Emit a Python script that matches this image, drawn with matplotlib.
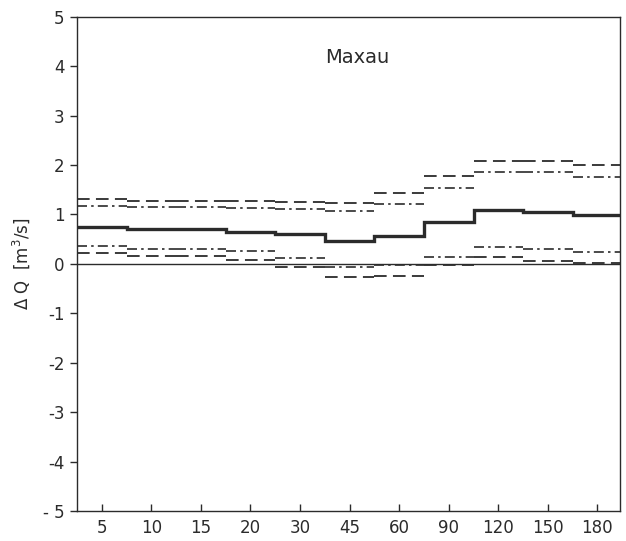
import matplotlib
matplotlib.use("Agg")
import matplotlib.pyplot as plt
import numpy as np

# durations (days) on the x axis, one step per category
durations = ["5", "10", "15", "20", "30", "45", "60", "90", "120", "150", "180"]

mean_dq = [0.74, 0.70, 0.70, 0.65, 0.60, 0.47, 0.57, 0.84, 1.10, 1.05, 0.99]
upper_dash = [1.31, 1.28, 1.28, 1.27, 1.25, 1.23, 1.44, 1.78, 2.08, 2.08, 2.00]
upper_dashdot = [1.18, 1.15, 1.15, 1.13, 1.11, 1.06, 1.21, 1.54, 1.86, 1.86, 1.76]
lower_dashdot = [0.37, 0.30, 0.30, 0.26, 0.12, -0.07, -0.03, 0.13, 0.35, 0.30, 0.25]
lower_dash = [0.23, 0.16, 0.16, 0.08, -0.06, -0.26, -0.24, -0.03, 0.13, 0.06, 0.01]

yticks = [-5, -4, -3, -2, -1, 0, 1, 2, 3, 4, 5]
ytick_labels = ["- 5", "-4", "-3", "-2", "-1", "0", "1", "2", "3", "4", "5"]

ink = "#2b2b2b"
plt.rcParams["font.family"] = "DejaVu Sans"

fig = plt.figure(figsize=(6.26, 5.41), dpi=100)
ax = fig.add_axes([0.123, 0.0555, 0.867, 0.9135])

n = len(durations)
edges = np.arange(n + 1) - 0.5
edges[-1] = n - 1 + 0.45

ax.axhline(0, color=ink, lw=1.0)
ax.stairs(mean_dq, edges, baseline=None, color=ink, lw=2.4)

# bounds: horizontal pieces only, no vertical connectors
dash = (0, (7, 3.5))
dashdot = (0, (6, 2.5, 1.5, 2.5))
ax.hlines(upper_dash, edges[:-1], edges[1:], color=ink, lw=1.3, linestyles=[dash])
ax.hlines(lower_dash, edges[:-1], edges[1:], color=ink, lw=1.3, linestyles=[dash])
ax.hlines(upper_dashdot, edges[:-1], edges[1:], color=ink, lw=1.2, linestyles=[dashdot])
ax.hlines(lower_dashdot, edges[:-1], edges[1:], color=ink, lw=1.2, linestyles=[dashdot])

ax.set_xlim(-0.5, n - 1 + 0.45)
ax.set_ylim(-5, 5)
ax.set_xticks(np.arange(n))
ax.set_xticklabels(durations)
ax.set_yticks(yticks)
ax.set_yticklabels(ytick_labels)

ax.tick_params(axis="x", direction="in", length=5, width=1, colors=ink, labelsize=12, pad=6)
ax.tick_params(axis="y", direction="out", length=5, width=1, colors=ink, labelsize=12, pad=4)
for s in ax.spines.values():
    s.set_color(ink)
    s.set_linewidth(1.0)

ax.set_ylabel("Δ Q  [m$^3$/s]", fontsize=12, color=ink, labelpad=8)
ax.text(0.516, 0.917, "Maxau", transform=ax.transAxes, ha="center", va="center",
        fontsize=14, color=ink)

fig.savefig("out.png", dpi=100)
